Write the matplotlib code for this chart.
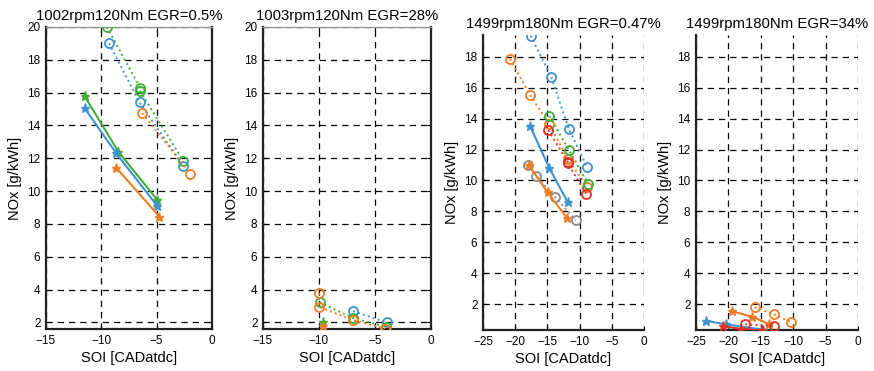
import matplotlib
matplotlib.use("Agg")
import matplotlib.pyplot as plt

plt.rcParams['font.family'] = ['Liberation Sans', 'DejaVu Sans']

BLUE = '#3f93d2'
ORANGE = '#f07d26'
GREEN = '#3fae3a'
RED = '#dd3426'
GRAY = '#8a8a8a'

titles = ["1002rpm120Nm EGR=0.5%", "1003rpm120Nm EGR=28%",
          "1499rpm180Nm EGR=0.47%", "1499rpm180Nm EGR=34%"]
xlabel = "SOI [CADatdc]"
ylabel = "NOx [g/kWh]"

# Panel 1 : 1002rpm120Nm EGR=0.5%
p1_green_o_x = [-9.5, -6.5, -6.5, -2.6]
p1_green_o_y = [20.0, 16.3, 16.1, 11.85]
p1_blue_o_x = [-9.3, -6.55, -2.6]
p1_blue_o_y = [19.0, 15.4, 11.55]
p1_orange_o_x = [-6.3, -1.95]
p1_orange_o_y = [14.75, 11.05]
p1_green_s_x = [-11.5, -8.45, -4.95]
p1_green_s_y = [15.77, 12.39, 9.47]
p1_blue_s_x = [-11.5, -8.65, -4.95]
p1_blue_s_y = [15.04, 12.3, 9.1]
p1_orange_s_x = [-8.65, -4.75]
p1_orange_s_y = [11.42, 8.45]

# Panel 2 : 1003rpm120Nm EGR=28%
p2_blue_o_x = [-6.95, -3.97]
p2_blue_o_y = [2.69, 2.0]
p2_green_o_x = [-9.95, -7.0, -4.0]
p2_green_o_y = [3.22, 2.28, 1.72]
p2_orange_o_x = [-10.0, -10.0, -6.97, -4.1]
p2_orange_o_y = [3.8, 2.95, 2.14, 1.63]
p2_green_s_x = [-9.6]
p2_green_s_y = [2.04]
p2_orange_s_x = [-9.6]
p2_orange_s_y = [1.8]

# Panel 3 : 1499rpm180Nm EGR=0.47%
p3_blue_o_x = [-17.6, -14.4, -11.7, -8.83]
p3_blue_o_y = [19.35, 16.68, 13.35, 10.86]
p3_orange_o_x = [-20.8, -17.67, -14.77, -11.8, -8.83]
p3_orange_o_y = [17.85, 15.5, 13.67, 11.37, 9.59]
p3_green_o_x = [-14.7, -11.7, -8.72]
p3_green_o_y = [14.17, 12.0, 9.8]
p3_red_o_x = [-14.87, -11.87, -11.87, -8.93]
p3_red_o_y = [13.25, 11.22, 11.1, 9.13]
p3_gray_o_x = [-17.97, -16.7, -13.84, -10.58]
p3_gray_o_y = [11.0, 10.3, 8.94, 7.44]
p3_blue_s_x = [-17.67, -14.7, -11.87]
p3_blue_s_y = [13.5, 10.8, 8.62]
p3_orange_s_x = [-17.87, -14.97, -11.98]
p3_orange_s_y = [10.97, 9.23, 7.59]

# Panel 4 : 1499rpm180Nm EGR=34%
p4_orange_o_x = [-15.97, -12.99, -10.37]
p4_orange_o_y = [1.81, 1.35, 0.86]
p4_orange_s_x = [-19.46, -16.32, -13.8]
p4_orange_s_y = [1.55, 1.2, 0.73]
p4_blue_s_x = [-23.5, -20.3, -14.6]
p4_blue_s_y = [0.93, 0.7, 0.36]
p4_red_s_x = [-20.8, -18.0, -14.8]
p4_red_s_y = [0.58, 0.4, 0.32]
p4_red_o_x = [-17.4, -12.95]
p4_red_o_y = [0.71, 0.6]

fig = plt.figure(figsize=(8.74, 3.71), dpi=100)

rects = [
    [46/874, 42/371, 166/874, 302/371],
    [263/874, 42/371, 168/874, 302/371],
    [483/874, 41/371, 161/874, 295/371],
    [696/874, 41/371, 162/874, 295/371],
]

def circ(ax, x, y, c):
    ax.plot(x, y, linestyle=':', color=c, lw=1.4, marker='o', ms=6.5,
            mfc='none', mec=c, mew=1.3, clip_on=True, zorder=3)

def star(ax, x, y, c):
    ax.plot(x, y, linestyle='-', color=c, lw=1.5, marker='*', ms=6.5,
            mfc=c, mec=c, clip_on=True, zorder=3)

axes = [fig.add_axes(r) for r in rects]

# panel 1
ax = axes[0]
circ(ax, p1_green_o_x, p1_green_o_y, GREEN)
circ(ax, p1_blue_o_x, p1_blue_o_y, BLUE)
circ(ax, p1_orange_o_x, p1_orange_o_y, ORANGE)
star(ax, p1_green_s_x, p1_green_s_y, GREEN)
star(ax, p1_blue_s_x, p1_blue_s_y, BLUE)
star(ax, p1_orange_s_x, p1_orange_s_y, ORANGE)

# panel 2
ax = axes[1]
circ(ax, p2_blue_o_x, p2_blue_o_y, BLUE)
circ(ax, p2_green_o_x, p2_green_o_y, GREEN)
circ(ax, p2_orange_o_x, p2_orange_o_y, ORANGE)
star(ax, p2_green_s_x, p2_green_s_y, GREEN)
star(ax, p2_orange_s_x, p2_orange_s_y, ORANGE)

# panel 3
ax = axes[2]
circ(ax, p3_blue_o_x, p3_blue_o_y, BLUE)
circ(ax, p3_orange_o_x, p3_orange_o_y, ORANGE)
circ(ax, p3_green_o_x, p3_green_o_y, GREEN)
circ(ax, p3_red_o_x, p3_red_o_y, RED)
circ(ax, p3_gray_o_x, p3_gray_o_y, GRAY)
star(ax, p3_blue_s_x, p3_blue_s_y, BLUE)
star(ax, p3_orange_s_x, p3_orange_s_y, ORANGE)

# panel 4
ax = axes[3]
circ(ax, p4_orange_o_x, p4_orange_o_y, ORANGE)
star(ax, p4_orange_s_x, p4_orange_s_y, ORANGE)
star(ax, p4_blue_s_x, p4_blue_s_y, BLUE)
star(ax, p4_red_s_x, p4_red_s_y, RED)
circ(ax, p4_red_o_x, p4_red_o_y, RED)

for i, ax in enumerate(axes):
    if i < 2:
        ax.set_xlim(-15, 0)
        ax.set_ylim(1.6, 20)
        ax.set_xticks([-15, -10, -5, 0])
        ax.set_yticks(range(2, 21, 2))
        for s in ['left', 'bottom', 'right']:
            ax.spines[s].set_linewidth(1.6)
            ax.spines[s].set_color('#222222')
        ax.spines['top'].set_linewidth(1.0)
        ax.spines['top'].set_color('#999999')
        ax.tick_params(top=True, right=True)
    else:
        ax.set_xlim(-25, 0)
        ax.set_ylim(0.34, 19.4)
        ax.set_xticks([-25, -20, -15, -10, -5, 0])
        ax.set_yticks(range(2, 19, 2))
        ax.spines['top'].set_visible(False)
        ax.spines['right'].set_visible(False)
        for s in ['left', 'bottom']:
            ax.spines[s].set_linewidth(1.6)
            ax.spines[s].set_color('#222222')
    ax.grid(True, color='black', linestyle=(0, (5, 4)), linewidth=0.9)
    ax.set_axisbelow(True)
    ax.tick_params(direction='in', labelsize=8.5, length=3, width=0.8, pad=4)
    ax.set_xlabel(xlabel, fontsize=10.5, labelpad=3)
    ax.set_ylabel(ylabel, fontsize=10.5, labelpad=4)
    ax.set_title(titles[i], fontsize=10.7, pad=5)

fig.savefig("out.png", dpi=100)
